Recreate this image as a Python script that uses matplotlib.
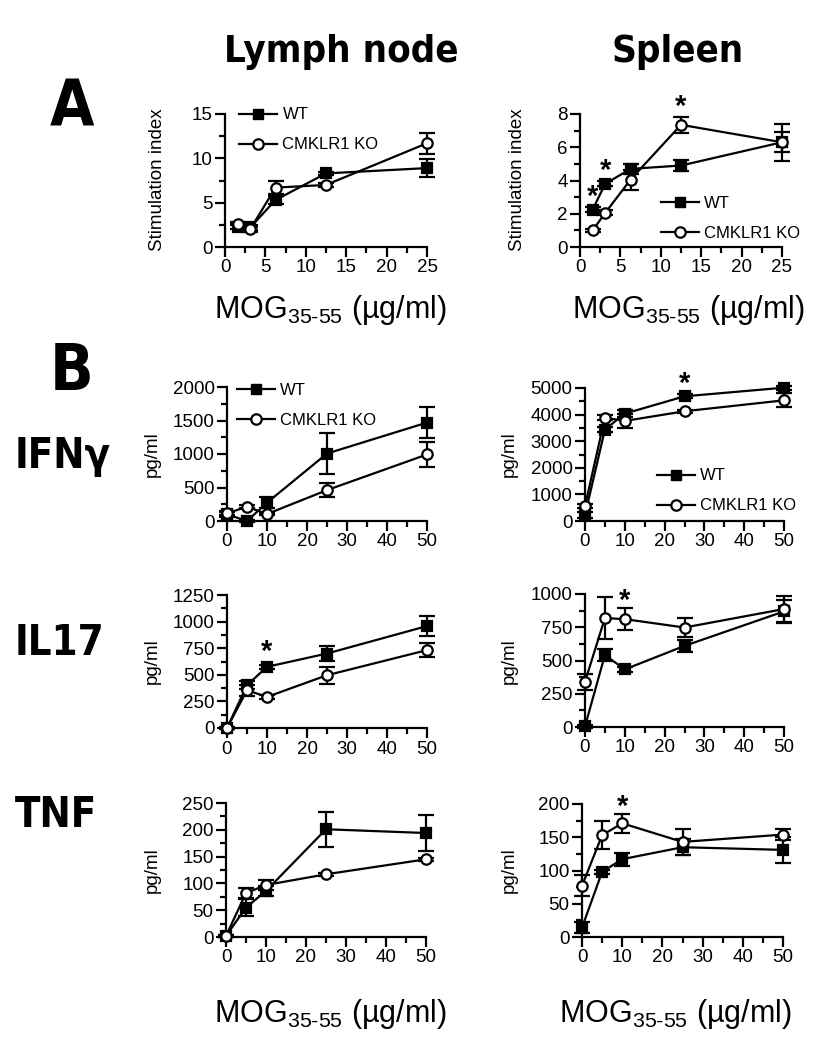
import matplotlib
matplotlib.use('Agg')
import matplotlib.pyplot as plt
from matplotlib.ticker import MultipleLocator, AutoMinorLocator
from matplotlib.lines import Line2D
from matplotlib import font_manager

plt.rcParams['font.family'] = ['Liberation Sans', 'DejaVu Sans']
plt.rcParams['mathtext.fontset'] = 'custom'
plt.rcParams['mathtext.rm'] = 'Liberation Sans'
plt.rcParams['mathtext.default'] = 'regular'

# look for a condensed bold sans for the headings
cond = None
for f in font_manager.fontManager.ttflist:
    if f.stretch in ('condensed', 'semi-condensed') and f.weight in (700, 'bold') and f.style == 'normal':
        cond = f.fname
        break
if cond is not None:
    head_prop = font_manager.FontProperties(fname=cond)
    hscale = 1.0
else:
    head_prop = font_manager.FontProperties(family='Liberation Sans', weight='bold')
    hscale = 0.8

# MOG35-55 doses (ug/ml)
dose_a = [1.5625, 3.125, 6.25, 12.5, 25]
dose_b = [0, 5, 10, 25, 50]

# A: proliferation (stimulation index)
ln_si_wt = [2.3, 2.2, 5.3, 8.3, 8.9]
ln_si_wt_err = [0.25, 0.3, 0.4, 0.2, 1.0]
ln_si_ko = [2.65, 2.0, 6.7, 7.0, 11.7]
ln_si_ko_err = [0.2, 0.3, 0.75, 0.2, 1.2]
sp_si_wt = [2.25, 3.8, 4.7, 4.9, 6.3]
sp_si_wt_err = [0.15, 0.15, 0.3, 0.35, 1.1]
sp_si_ko = [1.0, 2.05, 4.05, 7.35, 6.3]
sp_si_ko_err = [0.1, 0.15, 0.6, 0.48, 0.6]

# B: IFN-gamma (pg/ml)
ln_ifn_wt = [99, 0, 273, 1007, 1469]
ln_ifn_wt_err = [40, 10, 80, 300, 230]
ln_ifn_ko = [114, 213, 104, 461, 993]
ln_ifn_ko_err = [30, 20, 20, 100, 190]
sp_ifn_wt = [225, 3437, 4037, 4687, 5012]
sp_ifn_wt_err = [100, 100, 120, 80, 80]
sp_ifn_ko = [562, 3887, 3762, 4125, 4537]
sp_ifn_ko_err = [80, 80, 250, 60, 260]

# IL17 (pg/ml)
ln_il17_wt = [0, 402, 575, 700, 958]
ln_il17_wt_err = [5, 40, 20, 70, 90]
ln_il17_ko = [0, 355, 292, 496, 732]
ln_il17_ko_err = [5, 50, 15, 80, 65]
sp_il17_wt = [5, 541, 433, 610, 869]
sp_il17_wt_err = [10, 45, 20, 45, 85]
sp_il17_ko = [340, 819, 811, 748, 887]
sp_il17_ko_err = [60, 155, 80, 75, 95]

# TNF (pg/ml)
ln_tnf_wt = [2, 55, 86, 201, 194]
ln_tnf_wt_err = [2, 15, 10, 33, 33]
ln_tnf_ko = [2, 82, 97, 117, 145]
ln_tnf_ko_err = [2, 10, 10, 3, 3]
sp_tnf_wt = [14, 98, 117, 135, 131]
sp_tnf_wt_err = [8, 3, 10, 12, 19]
sp_tnf_ko = [77, 153, 171, 143, 154]
sp_tnf_ko_err = [16, 21, 14, 20, 8]

W, H = 816, 1050
fig = plt.figure(figsize=(W / 100, H / 100), dpi=100)


def rect(x0, x1, ytop, ybot):
    return [x0 / W, 1 - ybot / H, (x1 - x0) / W, (ybot - ytop) / H]


def panel(r, x, wt, wt_err, ko, ko_err, xmax, xstep, ymax, ystep, fs=13.5):
    ax = fig.add_axes(r)
    for y, e, m, fc, z in [(wt, wt_err, 's', 'k', 3), (ko, ko_err, 'o', 'white', 4)]:
        c = ax.errorbar(x, y, yerr=e, color='k', marker=m, ms=7.5, mfc=fc, mec='k',
                        mew=1.6, lw=1.6, elinewidth=1.6, capsize=5.5, capthick=1.6, zorder=z)
        for a in c.get_children():
            a.set_clip_on(False)
    ax.set_xlim(0, xmax)
    ax.set_ylim(0, ymax)
    ax.xaxis.set_major_locator(MultipleLocator(xstep))
    ax.yaxis.set_major_locator(MultipleLocator(ystep))
    ax.xaxis.set_minor_locator(AutoMinorLocator(2))
    ax.yaxis.set_minor_locator(AutoMinorLocator(2))
    for s in ['top', 'right']:
        ax.spines[s].set_visible(False)
    for s in ['left', 'bottom']:
        ax.spines[s].set_linewidth(1.6)
    ax.tick_params(which='major', direction='out', length=7, width=1.6, labelsize=fs, pad=2)
    ax.tick_params(which='minor', direction='out', length=4, width=1.6)
    return ax


def add_legend(ax, bx, by):
    h = [Line2D([], [], color='k', marker='s', ms=7.5, lw=1.6),
         Line2D([], [], color='k', marker='o', ms=7.5, mfc='white', mew=1.6, lw=1.6)]
    ax.legend(h, ['WT', 'CMKLR1 KO'], loc='upper left', bbox_to_anchor=(bx, by),
              frameon=False, fontsize=12, handlelength=2.3, handletextpad=0.3,
              labelspacing=0.9, borderpad=0, borderaxespad=0)


def star(ax, x, y):
    ax.text(x, y, '*', ha='center', va='baseline', fontsize=21, fontweight='bold')


# A row
ax = panel(rect(225, 427, 114, 247), dose_a, ln_si_wt, ln_si_wt_err, ln_si_ko, ln_si_ko_err, 25, 5, 15, 5)
add_legend(ax, 0.07, 1.05)
ax = panel(rect(580, 782, 114, 247), dose_a, sp_si_wt, sp_si_wt_err, sp_si_ko, sp_si_ko_err, 25, 5, 8, 2)
add_legend(ax, 0.40, 0.385)
star(ax, 1.5625, 2.55)
star(ax, 3.125, 4.1)
star(ax, 12.5, 7.95)

# IFN row
ax = panel(rect(227, 427, 387, 521), dose_b, ln_ifn_wt, ln_ifn_wt_err, ln_ifn_ko, ln_ifn_ko_err, 50, 10, 2000, 500)
add_legend(ax, 0.05, 1.03)
ax = panel(rect(585, 784, 388, 521), dose_b, sp_ifn_wt, sp_ifn_wt_err, sp_ifn_ko, sp_ifn_ko_err, 50, 10, 5000, 1000)
add_legend(ax, 0.36, 0.395)
star(ax, 25, 4850)

# IL17 row
ax = panel(rect(227, 427, 595, 728), dose_b, ln_il17_wt, ln_il17_wt_err, ln_il17_ko, ln_il17_ko_err, 50, 10, 1250, 250)
star(ax, 10, 640)
ax = panel(rect(585, 784, 594, 727), dose_b, sp_il17_wt, sp_il17_wt_err, sp_il17_ko, sp_il17_ko_err, 50, 10, 1000, 250)
star(ax, 10, 890)

# TNF row
ax = panel(rect(226, 426, 803, 937), dose_b, ln_tnf_wt, ln_tnf_wt_err, ln_tnf_ko, ln_tnf_ko_err, 50, 10, 250, 50)
ax = panel(rect(582, 783, 804, 937), dose_b, sp_tnf_wt, sp_tnf_wt_err, sp_tnf_ko, sp_tnf_ko_err, 50, 10, 200, 50)
star(ax, 10, 183)

# y labels
for x, y, t in [(157, 180, 'Stimulation index'), (517, 180, 'Stimulation index'),
                (152, 454, 'pg/ml'), (509, 454, 'pg/ml'),
                (152, 661, 'pg/ml'), (509, 661, 'pg/ml'),
                (152, 870, 'pg/ml'), (509, 870, 'pg/ml')]:
    fig.text(x / W, 1 - y / H, t, rotation=90, ha='center', va='center', fontsize=13.5)

# x labels
xlab = r'MOG$_{\text{35-55}}$ (µg/ml)'
for x, y in [(330, 318), (688, 318), (330, 1022), (675, 1022)]:
    fig.text(x / W, 1 - y / H, xlab, ha='center', va='baseline', fontsize=22)

# headers and panel letters
big = 1.0 if hscale == 1.0 else hscale + 0.2
fig.text(341 / W, 1 - 62 / H, 'Lymph node', ha='center', va='baseline',
         fontproperties=head_prop, fontsize=27.5 * (1.0 if hscale == 1.0 else 1.0))
fig.text(678 / W, 1 - 62 / H, 'Spleen', ha='center', va='baseline',
         fontproperties=head_prop, fontsize=27.5 * (1.0 if hscale == 1.0 else 1.0))
fig.text(72 / W, 1 - 127 / H, 'A', ha='center', va='baseline',
         fontproperties=head_prop, fontsize=46 * big)
fig.text(72 / W, 1 - 390 / H, 'B', ha='center', va='baseline',
         fontproperties=head_prop, fontsize=46 * big)
for y, t in [(468, 'IFNγ'), (655, 'IL17'), (827, 'TNF')]:
    fig.text(15 / W, 1 - y / H, t, ha='left', va='baseline',
             fontproperties=head_prop, fontsize=30 * big)

fig.savefig('out.png', dpi=100)
